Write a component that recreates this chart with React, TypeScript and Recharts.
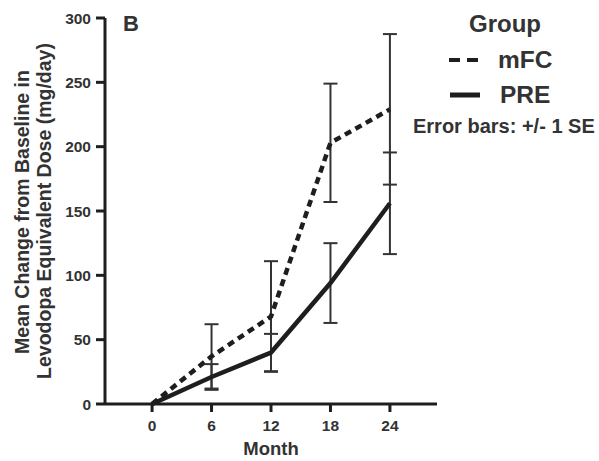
import { LineChart, Line, XAxis, YAxis, ErrorBar, Label } from "recharts";

const months = [0, 6, 12, 18, 24];
const mfcMean = [0, 37, 68, 203, 229];
const mfcSe = [null, 25, 43, 46, 58.5];
const preMean = [0, 21, 40, 94, 156];
const preSe = [null, 10, 14.5, 31, 39.5];

const yTicks = [0, 50, 100, 150, 200, 250, 300];

const data = months.map((m, i) => ({
  month: m,
  mfc: mfcMean[i],
  mfcErr: mfcSe[i],
  pre: preMean[i],
  preErr: preSe[i],
}));

const FONT = '"Liberation Sans", Arial, Helvetica, sans-serif';
const INK = "#1e1e1e";
const TEXT = "#333";

// two-line rotated title for the y axis
const YTitle = () => (
  <g fontFamily={FONT} fontWeight="bold" fontSize={19.5} fill={TEXT}>
    <text x={29} y={212} textAnchor="middle" transform="rotate(-90 29 212)">
      Mean Change from Baseline in
    </text>
    <text x={51} y={211} textAnchor="middle" transform="rotate(-90 51 211)">
      Levodopa Equivalent Dose (mg/day)
    </text>
  </g>
);

function GroupLegend() {
  return (
    <svg
      width={599}
      height={461}
      style={{ position: "absolute", left: 0, top: 0, pointerEvents: "none" }}
    >
      <g fontFamily={FONT} fontWeight="bold" fill={TEXT}>
        <text x={123} y={31} fontSize={22}>
          B
        </text>
        <text x={505} y={32} fontSize={24} textAnchor="middle">
          Group
        </text>
        <line x1={449} x2={479} y1={60} y2={60} stroke={INK} strokeWidth={4} strokeDasharray="11 7" />
        <text x={498} y={68} fontSize={24.5}>
          mFC
        </text>
        <line x1={450} x2={480} y1={95} y2={95} stroke={INK} strokeWidth={5} />
        <text x={500} y={103} fontSize={24.5}>
          PRE
        </text>
        <text x={413} y={133} fontSize={20}>
          Error bars: +/- 1 SE
        </text>
      </g>
    </svg>
  );
}

export default function App() {
  const tickStyle = { fontFamily: FONT, fontWeight: "bold", fontSize: 15.5, fill: TEXT };
  return (
    <div style={{ position: "absolute", left: 0, top: 0, width: 599, height: 461, background: "#fff" }}>
      <LineChart
        width={599}
        height={461}
        data={data}
        margin={{ top: 18, right: 162, bottom: 7, left: 0 }}
      >
        <XAxis
          dataKey="month"
          type="number"
          domain={[-4.75, 28.75]}
          ticks={months}
          height={50}
          tickSize={8}
          tickMargin={8}
          tick={tickStyle}
          axisLine={{ stroke: INK, strokeWidth: 3 }}
          tickLine={{ stroke: INK, strokeWidth: 3 }}
          allowDataOverflow
        >
          <Label
            value="Month"
            position="insideBottom"
            offset={-1}
            style={{ fontFamily: FONT, fontWeight: "bold", fontSize: 18.5, fill: TEXT }}
          />
        </XAxis>
        <YAxis
          type="number"
          domain={[0, 300]}
          ticks={yTicks}
          width={105}
          tickSize={9}
          tickMargin={5}
          tick={tickStyle}
          axisLine={{ stroke: INK, strokeWidth: 3 }}
          tickLine={{ stroke: INK, strokeWidth: 3 }}
        >
          <Label content={<YTitle />} />
        </YAxis>
        <Line
          dataKey="mfc"
          stroke={INK}
          strokeWidth={4.5}
          strokeDasharray="7 5"
          dot={false}
          activeDot={false}
          isAnimationActive={false}
        >
          <ErrorBar dataKey="mfcErr" direction="y" width={7} stroke="#333" strokeWidth={2} isAnimationActive={false} />
        </Line>
        <Line
          dataKey="pre"
          stroke={INK}
          strokeWidth={4.5}
          dot={false}
          activeDot={false}
          isAnimationActive={false}
        >
          <ErrorBar dataKey="preErr" direction="y" width={7} stroke="#333" strokeWidth={2} isAnimationActive={false} />
        </Line>
      </LineChart>
      <GroupLegend />
    </div>
  );
}
